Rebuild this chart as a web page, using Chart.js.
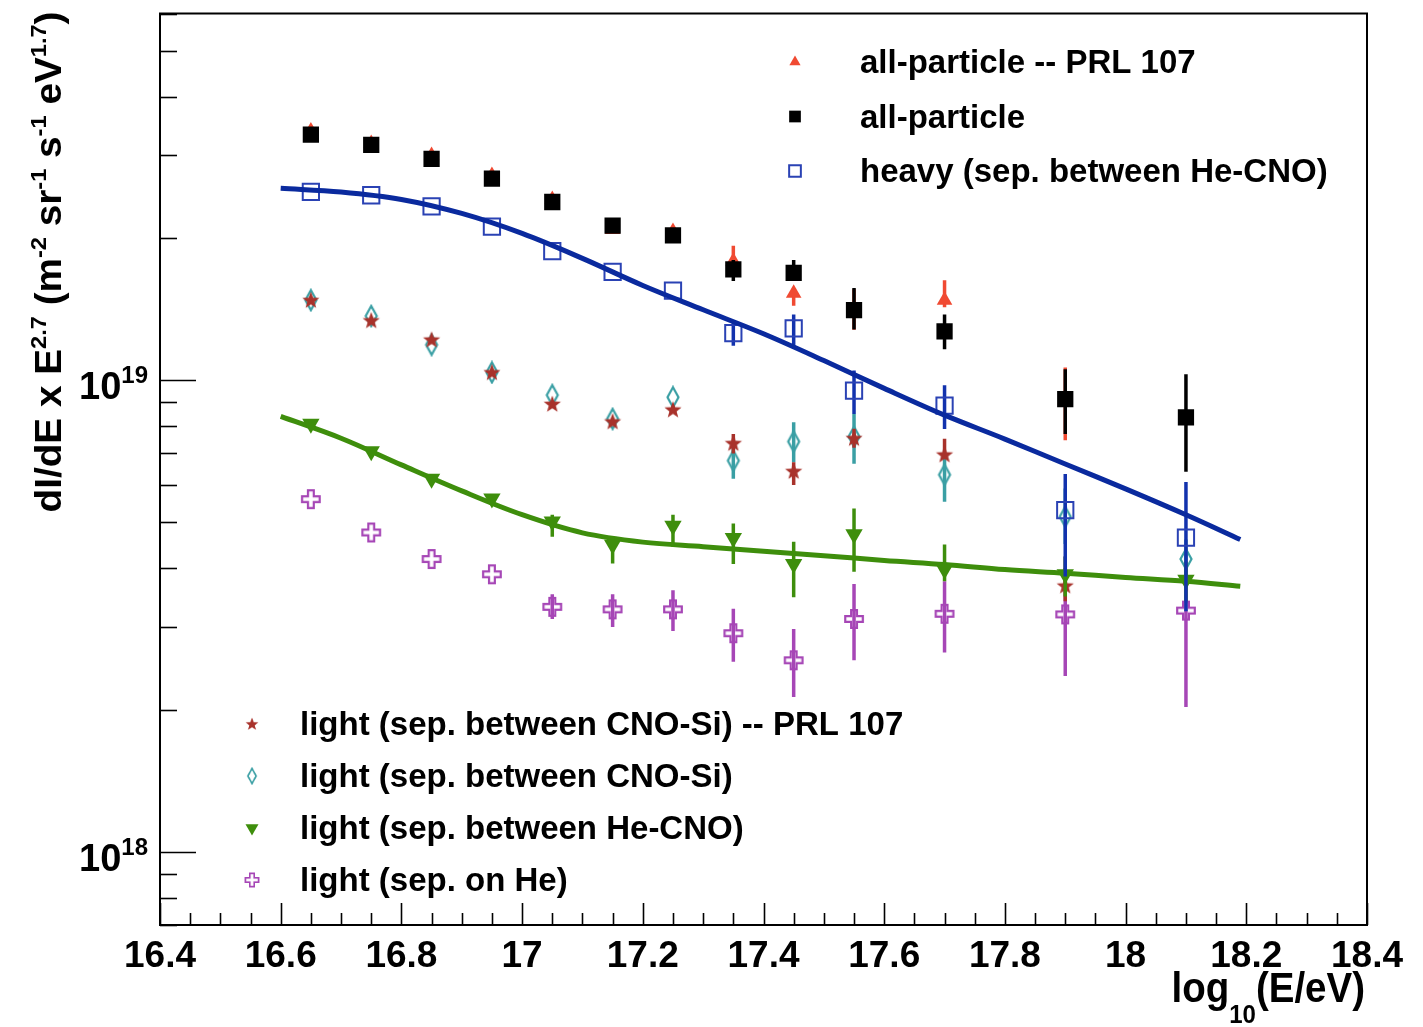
<!DOCTYPE html>
<html>
<head>
<meta charset="utf-8">
<script src="https://cdn.jsdelivr.net/npm/chart.js@4.4.1/dist/chart.umd.min.js"></script>
<style>
html, body { margin: 0; padding: 0; background: #fff; }
canvas { display: block; }
</style>
</head>
<body>
<canvas id="spectrum" width="1423" height="1027"></canvas>
<script>
// energy bins, log10(E/eV)
const energy = [16.65, 16.75, 16.85, 16.95, 17.05, 17.15, 17.25, 17.35, 17.45, 17.55, 17.7, 17.9, 18.1];

// all-particle -- PRL 107 (red triangles)
const allPrl   = [3.38e19, 3.18e19, 3.0e19, 2.72e19, 2.42e19, 2.09e19, 2.07e19, 1.79e19, 1.53e19, 1.42e19, 1.48e19, 9.1e18];
const allPrlLo = [null, null, null, null, null, null, null, 1.70e19, 1.44e19, 1.28e19, 1.43e19, 7.47e18];
const allPrlHi = [null, null, null, null, null, null, null, 1.93e19, 1.57e19, 1.56e19, 1.63e19, 1.065e19];

// all-particle (black squares)
const allPart   = [3.32e19, 3.16e19, 2.95e19, 2.68e19, 2.39e19, 2.13e19, 2.03e19, 1.72e19, 1.69e19, 1.41e19, 1.27e19, 9.13e18, 8.35e18];
const allPartLo = [null, null, null, null, null, null, null, 1.625e19, 1.63e19, 1.283e19, 1.164e19, 7.70e18, 6.40e18];
const allPartHi = [null, null, null, null, null, null, null, 1.80e19, 1.80e19, 1.571e19, 1.38e19, 1.056e19, 1.031e19];

// heavy (sep. between He-CNO)
const heavy   = [2.51e19, 2.47e19, 2.34e19, 2.12e19, 1.88e19, 1.70e19, 1.55e19, 1.26e19, 1.29e19, 9.51e18, 8.84e18, 5.31e18, 4.64e18];
const heavyLo = [null, null, null, null, null, null, null, 1.185e19, 1.185e19, 8.49e18, 7.89e18, 3.84e18, 3.24e18];
const heavyHi = [null, null, null, null, null, null, null, 1.339e19, 1.38e19, 1.05e19, 9.77e18, 6.33e18, 6.09e18];

// light (sep. between CNO-Si) -- PRL 107
const lightCnoPrl   = [1.48e19, 1.34e19, 1.22e19, 1.04e19, 8.91e18, 8.18e18, 8.67e18, 7.36e18, 6.42e18, 7.54e18, 6.96e18, 3.67e18];
const lightCnoPrlLo = [null, null, null, null, null, null, null, 7.0e18, 6.0e18, 7.2e18, 6.82e18, 3.40e18];
const lightCnoPrlHi = [null, null, null, null, null, null, null, 7.7e18, 6.71e18, 7.9e18, 7.52e18, 4.0e18];

// light (sep. between CNO-Si)
const lightCno   = [1.48e19, 1.37e19, 1.19e19, 1.04e19, 9.31e18, 8.29e18, 9.21e18, 6.76e18, 7.42e18, 7.6e18, 6.31e18, 5.14e18, 4.18e18];
const lightCnoLo = [null, null, null, null, null, null, null, 6.19e18, 6.71e18, 6.66e18, 5.53e18, 4.5e18, 3.8e18];
const lightCnoHi = [null, null, null, null, null, null, null, 7.34e18, 8.15e18, 8.49e18, 6.95e18, 5.9e18, 4.6e18];

// light (sep. between He-CNO)
const lightHeCno   = [8.09e18, 7.08e18, 6.19e18, 5.62e18, 5.02e18, 4.48e18, 4.92e18, 4.63e18, 4.08e18, 4.72e18, 3.97e18, 3.88e18, 3.78e18];
const lightHeCnoLo = [null, null, null, null, 4.66e18, 4.09e18, 4.44e18, 4.08e18, 3.47e18, 3.93e18, 3.75e18, 3.48e18, 3.40e18];
const lightHeCnoHi = [null, null, null, null, 5.19e18, 4.66e18, 5.19e18, 4.97e18, 4.55e18, 5.35e18, 4.49e18, 4.23e18, 4.13e18];

// light (sep. on He)
const lightHe   = [5.60e18, 4.76e18, 4.18e18, 3.88e18, 3.31e18, 3.27e18, 3.27e18, 2.91e18, 2.55e18, 3.12e18, 3.20e18, 3.19e18, 3.25e18];
const lightHeLo = [null, null, null, null, 3.12e18, 3.00e18, 2.94e18, 2.53e18, 2.13e18, 2.55e18, 2.65e18, 2.36e18, 2.03e18];
const lightHeHi = [null, null, null, null, 3.52e18, 3.52e18, 3.59e18, 3.28e18, 2.97e18, 3.70e18, 3.75e18, 4.23e18, 4.34e18];

// fitted curves
const fitX     = [16.6, 16.7, 16.8, 16.9, 17.0, 17.1, 17.2, 17.3, 17.4, 17.5, 17.6, 17.7, 17.8, 17.9, 18.0, 18.1, 18.19];
const fitHeavy = [2.555e19, 2.51e19, 2.42e19, 2.26e19, 2.05e19, 1.815e19, 1.59e19, 1.412e19, 1.256e19, 1.102e19, 9.62e18, 8.44e18, 7.51e18, 6.65e18, 5.89e18, 5.19e18, 4.60e18];
const fitLight = [8.39e18, 7.54e18, 6.62e18, 5.83e18, 5.19e18, 4.75e18, 4.54e18, 4.44e18, 4.34e18, 4.25e18, 4.15e18, 4.07e18, 3.97e18, 3.90e18, 3.82e18, 3.75e18, 3.66e18];

// axis ticks
const xTickLabels = ["16.4", "16.6", "16.8", "17", "17.2", "17.4", "17.6", "17.8", "18", "18.2", "18.4"];
const yTickLabels = [["10", "18"], ["10", "19"]];

const FONT = '"Liberation Sans", Arial, Helvetica, sans-serif';

// ROOT-like markers that Chart.js doesn't have
function makeMarker(w, h, draw) {
  const c = document.createElement('canvas');
  c.width = w; c.height = h;
  draw(c.getContext('2d'), w, h);
  return c;
}
const starMark = makeMarker(20, 20, (g) => {
  g.fillStyle = '#a8322b';
  g.beginPath();
  for (let i = 0; i < 10; i++) {
    const r = i % 2 === 0 ? 9 : 3.8;
    const a = -Math.PI / 2 + i * Math.PI / 5;
    g.lineTo(10 + r * Math.cos(a), 10.5 + r * Math.sin(a));
  }
  g.closePath();
  g.fill();
});
const diamondMark = makeMarker(16, 24, (g) => {
  g.strokeStyle = '#3a9fa4';
  g.lineWidth = 2.2;
  g.beginPath();
  g.moveTo(8, 2); g.lineTo(13.5, 12); g.lineTo(8, 22); g.lineTo(2.5, 12);
  g.closePath();
  g.stroke();
});
const crossMark = makeMarker(22, 22, (g) => {
  const c = 11, a = 2.9, L = 8.8;
  g.strokeStyle = '#a646b6';
  g.lineWidth = 2.2;
  g.beginPath();
  const pts = [[-a,-L],[a,-L],[a,-a],[L,-a],[L,a],[a,a],[a,L],[-a,L],[-a,a],[-L,a],[-L,-a],[-a,-a]];
  pts.forEach((p, i) => i ? g.lineTo(c + p[0], c + p[1]) : g.moveTo(c + p[0], c + p[1]));
  g.closePath();
  g.stroke();
});

const pts = (xs, ys) => ys.map((y, i) => ({ x: xs[i], y: y }));

const datasets = [
  { label: 'heavy fit', data: pts(fitX, fitHeavy), showLine: true, pointRadius: 0, borderColor: '#0a2a9e', borderWidth: 5, tension: 0.35, order: 0 },
  { label: 'heavy (sep. between He-CNO)', data: pts(energy, heavy), errLo: heavyLo, errHi: heavyHi, errColor: '#1232ad',
    pointStyle: 'rect', pointRadius: 11.5, pointBackgroundColor: 'rgba(0,0,0,0)', pointBorderColor: '#2a42b4', pointBorderWidth: 2, order: 1, legend: 1 },
  { label: 'all-particle', data: pts(energy, allPart), errLo: allPartLo, errHi: allPartHi, errColor: '#000',
    pointStyle: 'rect', pointRadius: 11.5, pointBackgroundColor: '#000', pointBorderColor: '#000', pointBorderWidth: 0, order: 2, legend: 1 },
  { label: 'all-particle -- PRL 107', data: pts(energy, allPrl), errLo: allPrlLo, errHi: allPrlHi, errColor: '#f04a32',
    pointStyle: 'triangle', pointRadius: 9, pointBackgroundColor: '#f04a32', pointBorderColor: '#f04a32', pointBorderWidth: 0, order: 3, legend: 1 },
  { label: 'light fit', data: pts(fitX, fitLight), showLine: true, pointRadius: 0, borderColor: '#3e8e0c', borderWidth: 5, tension: 0.35, order: 5 },
  { label: 'light (sep. between He-CNO)', data: pts(energy, lightHeCno), errLo: lightHeCnoLo, errHi: lightHeCnoHi, errColor: '#3e8e0c',
    pointStyle: 'triangle', pointRotation: 180, pointRadius: 10, pointBackgroundColor: '#3e8e0c', pointBorderColor: '#3e8e0c', pointBorderWidth: 0, order: 4, legend: 2 },
  { label: 'light (sep. between CNO-Si) -- PRL 107', data: pts(energy, lightCnoPrl), errLo: lightCnoPrlLo, errHi: lightCnoPrlHi, errColor: '#a8322b',
    pointStyle: starMark, pointRadius: 10, order: 6, legend: 2 },
  { label: 'light (sep. between CNO-Si)', data: pts(energy, lightCno), errLo: lightCnoLo, errHi: lightCnoHi, errColor: '#3a9fa4',
    pointStyle: diamondMark, pointRadius: 10, order: 7, legend: 2 },
  { label: 'light (sep. on He)', data: pts(energy, lightHe), errLo: lightHeLo, errHi: lightHeHi, errColor: '#a646b6',
    pointStyle: crossMark, pointRadius: 11, order: 8, legend: 2 }
];

// text with super/subscripts: parts = [[text, 0|1|2]]  (0 normal, 1 sup, 2 sub)
function richText(g, parts, x, y, size, align, subDrop) {
  const small = Math.round(size * 0.62);
  const fontFor = (k) => 'bold ' + (k ? small : size) + 'px ' + FONT;
  let total = 0;
  const widths = parts.map(p => { g.font = fontFor(p[1]); const w = g.measureText(p[0]).width; total += w; return w; });
  let cx = align === 'right' ? x - total : align === 'center' ? x - total / 2 : x;
  g.textAlign = 'left';
  g.textBaseline = 'alphabetic';
  parts.forEach((p, i) => {
    g.font = fontFor(p[1]);
    const dy = p[1] === 1 ? -size * 0.42 : p[1] === 2 ? size * (subDrop || 0.32) : 0;
    g.fillText(p[0], cx, y + dy);
    cx += widths[i];
  });
}

function drawMarker(g, ds, x, y, s) {
  g.save();
  const st = ds.pointStyle;
  if (st instanceof HTMLCanvasElement) {
    g.drawImage(st, x - st.width * s / 2, y - st.height * s / 2, st.width * s, st.height * s);
  } else {
    g.fillStyle = ds.pointBackgroundColor;
    g.strokeStyle = ds.pointBorderColor;
    g.lineWidth = ds.pointBorderWidth;
    Chart.helpers.drawPoint(g, { pointStyle: st, radius: ds.pointRadius * s, rotation: ds.pointRotation || 0, borderWidth: ds.pointBorderWidth }, x, y);
  }
  g.restore();
}

const rootFrame = {
  id: 'rootFrame',
  beforeDatasetDraw(chart, args) {
    const ds = chart.data.datasets[args.index];
    if (!ds.errLo) return;
    const xs = chart.scales.x, ys = chart.scales.y, g = chart.ctx, a = chart.chartArea;
    g.save();
    g.beginPath();
    g.rect(a.left, a.top, a.right - a.left, a.bottom - a.top);
    g.clip();
    g.strokeStyle = ds.errColor;
    g.lineWidth = 3.5;
    ds.data.forEach((p, i) => {
      if (ds.errLo[i] == null) return;
      const px = xs.getPixelForValue(p.x);
      g.beginPath();
      g.moveTo(px, ys.getPixelForValue(ds.errLo[i]));
      g.lineTo(px, ys.getPixelForValue(ds.errHi[i]));
      g.stroke();
    });
    g.restore();
  },
  afterDraw(chart) {
    const g = chart.ctx, a = chart.chartArea, xs = chart.scales.x, ys = chart.scales.y;
    g.save();
    g.strokeStyle = '#000';
    g.fillStyle = '#000';
    // ticks along bottom axis (inside)
    g.lineWidth = 1.6;
    for (let v = 16.4; v <= 18.4001; v += 0.05) {
      const px = Math.round(xs.getPixelForValue(v)) + 0.5;
      const major = Math.abs(v * 5 - Math.round(v * 5)) < 1e-6;
      g.beginPath();
      g.moveTo(px, a.bottom);
      g.lineTo(px, a.bottom - (major ? 22 : 12));
      g.stroke();
    }
    // ticks along left axis (inside), log scale
    for (let e = 17; e <= 19; e++) {
      for (let m = 1; m <= 9; m++) {
        const v = m * Math.pow(10, e);
        if (v < ys.min || v > ys.max) continue;
        const py = Math.round(ys.getPixelForValue(v)) + 0.5;
        g.beginPath();
        g.moveTo(a.left, py);
        g.lineTo(a.left + (m === 1 ? 36 : 17), py);
        g.stroke();
      }
    }
    // frame
    g.lineWidth = 2;
    g.strokeRect(a.left, a.top, a.right - a.left, a.bottom - a.top);

    // x tick labels
    xTickLabels.forEach(t => {
      richText(g, [[t, 0]], xs.getPixelForValue(parseFloat(t)), a.bottom + 42, 37, 'center');
    });
    // y tick labels
    yTickLabels.forEach(t => {
      const py = ys.getPixelForValue(Math.pow(10, parseInt(t[1], 10)));
      richText(g, [[t[0], 0], [t[1], 1]], a.left - 12, py + 19, 38, 'right');
    });
    // axis titles
    g.save();
    g.translate(a.right - 2, a.bottom + 77);
    g.scale(1, 1.08);
    richText(g, [['log', 0], ['10', 2], ['(E/eV)', 0]], 0, 0, 38.5, 'right', 0.5);
    g.restore();
    g.save();
    g.translate(61, a.top - 2);
    g.rotate(-Math.PI / 2);
    g.scale(1.075, 1);
    richText(g, [['dI/dE x E', 0], ['2.7', 1], [' (m', 0], ['-2', 1], [' sr', 0], ['-1', 1], [' s', 0], ['-1', 1], [' eV', 0], ['1.7', 1], [')', 0]], 0, 0, 36, 'right');
    g.restore();

    // legends
    const top = chart.data.datasets.filter(d => d.legend === 1).reverse();
    top.forEach((d, i) => {
      const y = 62 + i * 54.5;
      drawMarker(g, d, 795, y, 0.72);
      g.fillStyle = '#000';
      richText(g, [[d.label, 0]], 860, y + 11, 33, 'left');
    });
    const bottom = ['light (sep. between CNO-Si) -- PRL 107', 'light (sep. between CNO-Si)', 'light (sep. between He-CNO)', 'light (sep. on He)']
      .map(l => chart.data.datasets.find(d => d.label === l));
    bottom.forEach((d, i) => {
      const y = 724 + i * 52;
      drawMarker(g, d, 252, y, 0.75);
      g.fillStyle = '#000';
      richText(g, [[d.label, 0]], 300, y + 11, 33, 'left');
    });
    g.restore();
  }
};

const chart = new Chart(document.getElementById('spectrum'), {
  type: 'scatter',
  data: { datasets: datasets },
  options: {
    responsive: false,
    animation: false,
    layout: { padding: { left: 160, top: 10, right: 56, bottom: 102 } },
    plugins: { legend: { display: false }, tooltip: { enabled: false } },
    scales: {
      x: { type: 'linear', min: 16.4, max: 18.4, display: false },
      y: { type: 'logarithmic', min: 7e17, max: 6e19, display: false }
    }
  },
  plugins: [rootFrame]
});
</script>
</body>
</html>
